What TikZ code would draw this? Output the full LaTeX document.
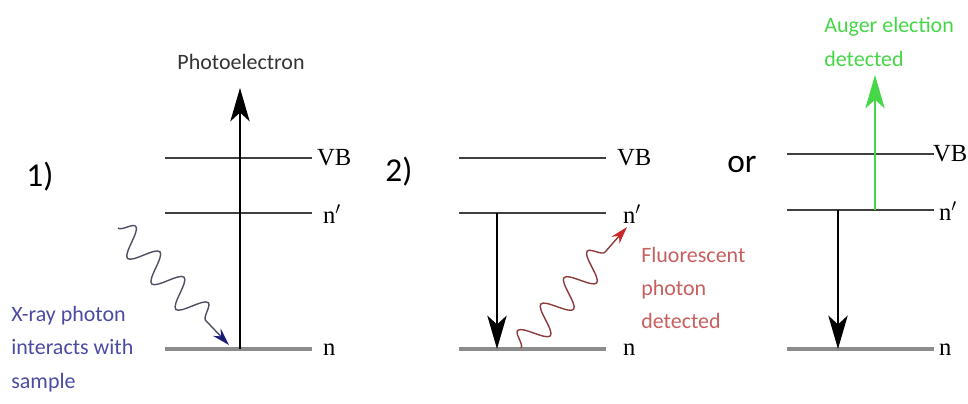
\documentclass[tikz,border=0pt]{standalone}
\usepackage{fontspec}
\setmainfont{Liberation Serif}
\newfontfamily\labelfont{Carlito}
\usetikzlibrary{arrows.meta,decorations.pathmorphing}

\definecolor{xraytext}{RGB}{75,75,165}
\definecolor{xraytip}{RGB}{25,25,120}
\definecolor{xraywave}{RGB}{80,80,100}
\definecolor{fluortext}{RGB}{200,95,95}
\definecolor{fluorwave}{RGB}{140,60,60}
\definecolor{fluortip}{RGB}{200,40,40}
\definecolor{augergreen}{RGB}{70,215,70}

\tikzset{
    level/.style={draw=black!75, line width=1pt},
    groundlevel/.style={draw=black!45, line width=2.2pt},
    levellabel/.style={anchor=west, inner sep=1pt, font=\fontsize{14}{14}\selectfont},
    bigarrow/.style={line width=1.1pt, -{Stealth[length=19pt, width=11pt, inset=5pt]}},
    photon/.style={decorate, line width=0.8pt,
        decoration={snake, amplitude=8pt, segment length=20pt, post length=13pt}},
    smalltext/.style={align=left, inner sep=0pt, font=\labelfont\fontsize{12.5}{19}\selectfont},
    bigtext/.style={inner sep=0pt, font=\labelfont\fontsize{19}{19}\selectfont}
}

\begin{document}
\begin{tikzpicture}[x=0.02cm, y=-0.02cm]
    \useasboundingbox (0,0) rectangle (968,403);

    % Draw energy levels of the three panels
    \foreach \p/\x/\vb/\nn/\lab in {a/165/158/213/315, b/459/158/213/615, c/787/154/210/931}
    {
        \draw[level] (\x,\vb) coordinate (vbl\p) -- ++(147,0) coordinate (vbr\p);
        \draw[level] (\x,\nn) coordinate (npl\p) -- ++(147,0) coordinate (npr\p);
        \draw[groundlevel] (\x,349) coordinate (nl\p) -- ++(147,0) coordinate (nr\p);
        \node[levellabel] (vblab\p) at (\lab,\vb) {VB};
        \node[levellabel] (nplab\p) at (\lab+6,\nn+1) {n$'$};
        \node[levellabel] (nlab\p) at (\lab+6,350) {n};
    }

    % Panel labels
    \node[bigtext] (one) at (40,177) {1)};
    \node[bigtext] (two) at (399,172) {2)};
    \node[bigtext] (orword) at (742,164) {or};

    % 1) photoelectron leaves the n level
    \coordinate (ea) at (240,349);
    \coordinate (topa) at (240,88);
    \draw[bigarrow] (ea) -- (topa);
    \node[smalltext, text=black!80] (photo) at (241,62) {Photoelectron};

    % incoming x-ray photon
    \coordinate (xrayin) at (118,228);
    \coordinate (xrayhit) at (229,345);
    \draw[photon, xraywave, -{Stealth[length=10pt, width=6pt, color=xraytip]}] (xrayin) -- (xrayhit);
    \node[smalltext, text=xraytext, anchor=west] (xraylab) at (11,349)
        {X-ray photon\\interacts with\\sample};

    % 2) relaxation with fluorescent photon
    \coordinate (eb) at (497,213);
    \coordinate (hb) at (497,349);
    \draw[bigarrow] (eb) -- (hb);
    \coordinate (fluorout) at (521,348);
    \coordinate (fluortop) at (627,227);
    \draw[photon, fluorwave, -{Stealth[length=10pt, width=6pt, color=fluortip]}] (fluorout) -- (fluortop);
    \node[smalltext, text=fluortext, anchor=west] (fluorlab) at (641,288)
        {Fluorescent\\photon\\detected};

    % or relaxation with Auger electron
    \coordinate (ec) at (838,210);
    \coordinate (hc) at (838,349);
    \draw[bigarrow] (ec) -- (hc);
    \coordinate (augerout) at (875,210);
    \coordinate (augertop) at (875,75);
    \draw[bigarrow, augergreen] (augerout) -- (augertop);
    \node[smalltext, text=augergreen, anchor=west] (augerlab) at (824,42)
        {Auger election\\detected};
\end{tikzpicture}
\end{document}
